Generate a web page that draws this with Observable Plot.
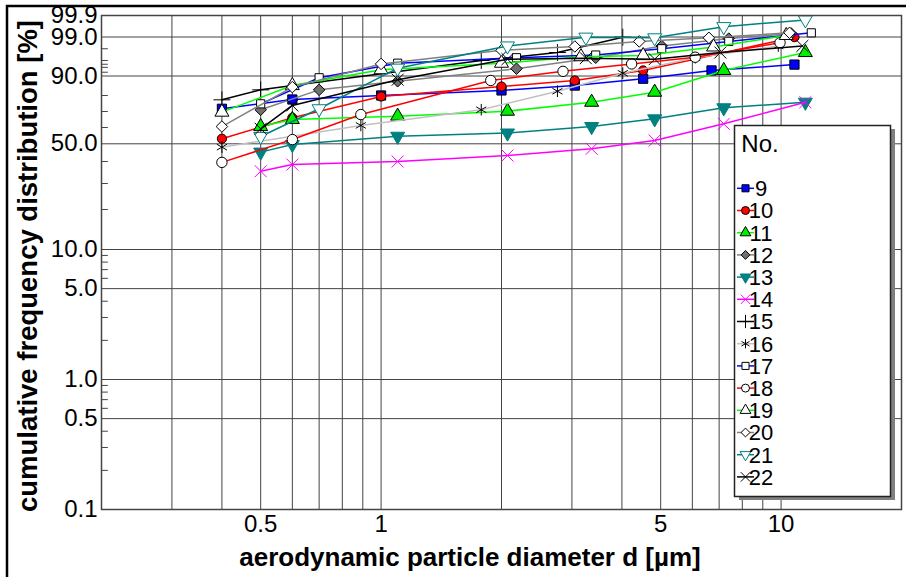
<!DOCTYPE html>
<html><head><meta charset="utf-8">
<script src="https://cdn.jsdelivr.net/npm/d3@7"></script>
<script src="https://cdn.jsdelivr.net/npm/@observablehq/plot@0.6"></script>
<style>body{margin:0;background:#fff}#chart{width:906px;height:577px;overflow:hidden}</style>
</head><body><div id="chart"></div>
<script>
// ---- data ----
const ids = ["9","10","11","12","13","14","15","16","17","18","19","20","21","22"];
const diam = [
  [0.4, 0.6, 1.0, 2.0, 3.05, 4.52, 6.7, 10.8],         // 9
  [0.4, 0.6, 1.0, 2.0, 3.05, 4.52, 10.8],              // 10
  [0.5, 0.6, 1.1, 2.07, 3.36, 4.83, 7.19, 11.5],       // 11
  [0.5, 0.7, 1.1, 2.18, 3.44, 5.03, 7.4, 10.6],        // 12
  [0.5, 0.6, 1.1, 2.07, 3.36, 4.83, 7.19, 11.5],       // 13
  [0.5, 0.6, 1.1, 2.07, 3.36, 4.83, 7.19, 11.5],       // 14
  [0.4, 0.5, 1.78, 2.76, 4.02],                        // 15
  [0.4, 0.89, 1.78, 2.76, 4.02, 6.1, 9.84],            // 16
  [0.5, 0.7, 1.1, 2.18, 3.44, 5.03, 7.4, 11.9],        // 17
  [0.4, 0.6, 0.89, 1.88, 2.85, 4.23, 6.1, 9.94],       // 18
  [0.4, 0.6, 1.0, 2.0, 3.16, 4.52, 6.78, 10.3],        // 19
  [0.4, 0.6, 1.0, 2.0, 3.05, 4.42, 6.6, 10.5],         // 20
  [0.5, 0.7, 1.1, 2.07, 3.25, 4.83, 7.19, 11.5],       // 21
  [0.5, 0.6, 1.1, 2.07, 3.25, 4.83, 7.05, 11.3]        // 22
];
const cum = [
  [71.7, 77.5, 80.0, 82.6, 85.1, 88.6, 92.8, 94.9],
  [53.1, 66.1, 79.4, 84.6, 87.7, 92.8, 98.99],
  [60.6, 65.0, 67.1, 70.2, 75.8, 81.7, 92.8, 97.5],
  [71.1, 82.9, 87.3, 93.5, 96.6, 98.3, 98.9, 99.31],
  [45.3, 49.6, 54.6, 56.6, 60.6, 65.4, 72.3, 75.8],
  [35.6, 38.6, 40.0, 43.4, 47.2, 52.0, 62.3, 75.8],
  [77.3, 82.9, 96.0, 97.5, 98.99],
  [48.1, 61.3, 71.1, 82.2, 91.5, 96.6, 98.3],
  [74.8, 89.1, 95.3, 96.6, 97.1, 98.0, 98.7, 99.36],
  [39.6, 52.6, 68.1, 87.7, 92.4, 95.1, 96.7, 98.6],
  [69.6, 85.1, 93.1, 95.3, 96.8, 97.0, 98.2, 99.15],
  [60.6, 84.3, 95.1, 97.8, 98.25, 98.7, 98.95, 99.36],
  [54.5, 71.7, 93.7, 98.3, 98.99, 98.95, 99.67, 99.84],
  [59.2, 73.8, 88.1, 96.3, 96.5, 96.3, 97.5, 98.3]
];
const xGrid = [0.3,0.4,0.5,0.6,0.7,0.8,0.9,1,2,3,4,5,6,7,8,9,10];
const xTicks = [0.5, 1, 5, 10];
const yTicks = [0.1, 0.5, 1, 5, 10, 50, 90, 99, 99.9];
const yTickLabels = ["0.1","0.5","1.0","5.0","10.0","50.0","90.0","99.0","99.9"];
const yMinor = [0.2,0.3,0.4,0.6,0.7,0.8,0.9,2,3,4,6,7,8,9,20,30,40,60,70,80,92,94,95,96,98];

// ---- styles ----
const lineColor = ["#0000ff","#ff0000","#00ff00","#808080","#008080","#ff00ff","#000000","#c0c0c0","#0000ff","#ff0000","#00ff00","#808080","#008080","#000000"];
const downTri = {draw(ctx, size){const s3=Math.sqrt(3);const y=-Math.sqrt(size/(s3*3));ctx.moveTo(0,-y*2);ctx.lineTo(-s3*y,y);ctx.lineTo(s3*y,y);ctx.closePath();}};
const sym = [d3.symbolSquare, d3.symbolCircle, d3.symbolTriangle, d3.symbolDiamond2, downTri, d3.symbolTimes, d3.symbolPlus, d3.symbolAsterisk,
             d3.symbolSquare, d3.symbolCircle, d3.symbolTriangle, d3.symbolDiamond2, downTri, d3.symbolTimes];
const fillC = ["#0000ff","#ff0000","#00ee00","#707070","#008080","none","none","none","#ffffff","#ffffff","#ffffff","#ffffff","#ffffff","none"];
const strokeC = ["#000","#000","#000","#000","#008080","#ff00ff","#000","#000","#000","#000","#000","#000","#008080","#000"];

// ---- probability-like y transform (log below 10 %, stretched above) ----
const midP = [10,20,30,40,50,60,70,80,90];
const midPos = [260,300,326,348,365.7,382,398,414,433.5];
function T(p){
  if (p <= 10) return 130*(Math.log10(p)+1);
  if (p <= 90){
    for (let i=1;i<midP.length;i++) if (p<=midP[i]) return midPos[i-1]+(p-midP[i-1])/(midP[i]-midP[i-1])*(midPos[i]-midPos[i-1]);
  }
  if (p <= 99) return 433.5 + 39*(1-Math.log10(100-p));
  return 472.5 - 21.5*Math.log10(100-p);
}

const marks = [
  Plot.ruleX(xGrid, {stroke:"#444", strokeWidth:1}),
  Plot.ruleY(yTicks, {y: T, stroke:"#444", strokeWidth:1}),
  Plot.ruleY(yMinor, {y: T, x1: 0.2, x2: 0.208, stroke:"#444", strokeWidth:1})
];
ids.forEach((id,i)=>{
  const data = diam[i].map((d,j)=>({d, p:cum[i][j]}));
  marks.push(Plot.line(data, {x:"d", y:r=>T(r.p), stroke:lineColor[i], strokeWidth:1.5}));
  const stroked = fillC[i]==="none";
  marks.push(Plot.dot(data, {x:"d", y:r=>T(r.p), symbol:sym[i], r: stroked?5.5:(i%7===1?4.6:5.2), fill:fillC[i], stroke:strokeC[i], strokeWidth:1}));
});
marks.push(Plot.frame({stroke:"#444", strokeWidth:1.5}));

const chart = Plot.plot({
  width:906, height:577, marginLeft:101, marginRight:5, marginTop:15, marginBottom:68,
  x:{type:"log", domain:[0.2,20], ticks:xTicks, tickFormat:d=>String(d), tickSize:0, tickPadding:5, label:null},
  y:{type:"linear", domain:[0, T(99.9)], ticks:yTicks.map(T), tickFormat:v=>yTickLabels[yTicks.findIndex(t=>Math.abs(T(t)-v)<1e-6)], tickSize:0, tickPadding:4, label:null},
  style:{fontFamily:"'Liberation Sans', Arial, sans-serif", fontSize:"24px", background:"white", color:"#000"},
  marks
});
document.getElementById("chart").appendChild(chart);

// ---- labels, legend, outer frame ----
const svg = d3.select(chart);
svg.append("text").attr("transform","translate(37,266) rotate(-90)").attr("text-anchor","middle")
  .style("font-weight","bold").style("font-size","27.5px").text("cumulative frequency distribution [%]");
svg.append("text").attr("x",470).attr("y",566).attr("text-anchor","middle")
  .style("font-weight","bold").style("font-size","26px").text("aerodynamic particle diameter d [µm]");

const lg = svg.append("g");
lg.append("rect").attr("x",739).attr("y",129).attr("width",156).attr("height",371).attr("fill","#808080");
lg.append("rect").attr("x",734.5).attr("y",125.5).attr("width",156).attr("height",371).attr("fill","#fff").attr("stroke","#222").attr("stroke-width",1.5);
lg.append("text").attr("x",760).attr("y",144).attr("dy","0.35em").style("font-size","24px").text("No.");
ids.forEach((id,i)=>{
  const cy = 188.3 + i*22.2;
  lg.append("line").attr("x1",737).attr("x2",754).attr("y1",cy).attr("y2",cy).attr("stroke",lineColor[i]).attr("stroke-width",1.5);
  lg.append("path").attr("transform",`translate(745.5,${cy})`)
    .attr("d", d3.symbol(sym[i], fillC[i]==="none"?60:50)())
    .attr("fill", fillC[i]).attr("stroke", strokeC[i]).attr("stroke-width",1);
  lg.append("text").attr("x",761).attr("y",cy).attr("dy","0.36em").style("font-size","22px").text(id);
});
svg.append("rect").attr("x",7).attr("y",6).attr("width",920).attr("height",600).attr("fill","none").attr("stroke","#000").attr("stroke-width",2.5);
</script>
</body></html>
